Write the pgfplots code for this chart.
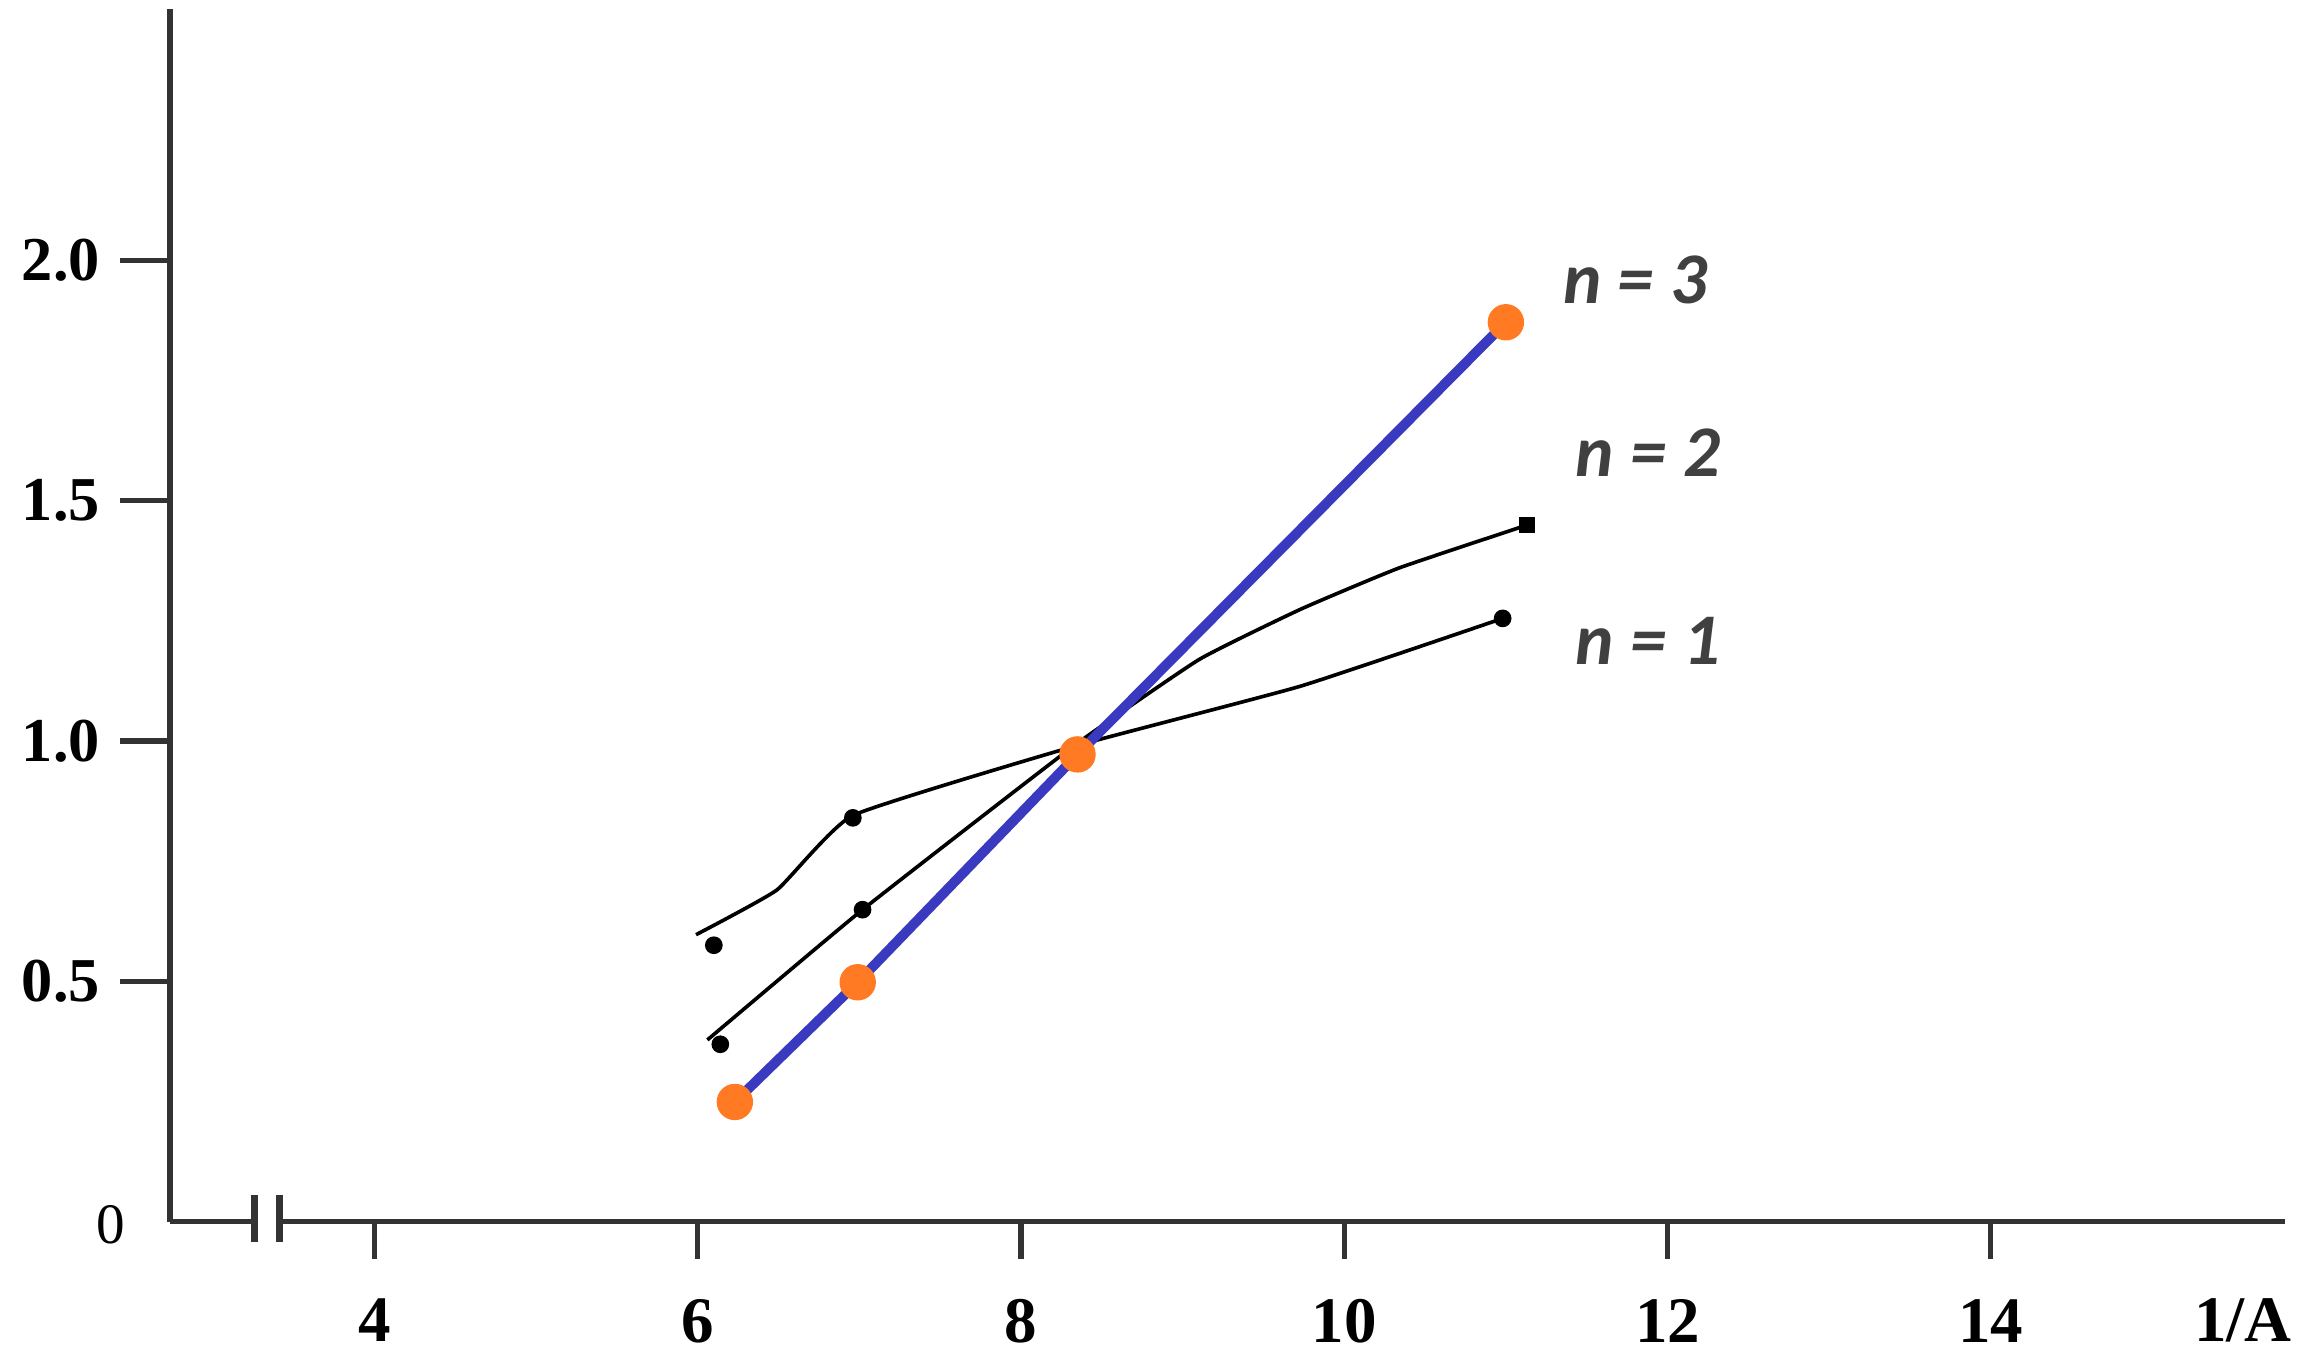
\documentclass[border=0pt]{standalone}
\usepackage{fontspec}
\setmainfont{Liberation Serif}
\newfontfamily\labfont{Carlito}
\usepackage{pgfplots}
\pgfplotsset{compat=1.18}
\definecolor{axgray}{HTML}{333333}
\definecolor{nblue}{HTML}{3A3AC0}
\definecolor{norange}{HTML}{FF7A22}
\definecolor{labgray}{HTML}{404040}
\begin{document}
\begin{tikzpicture}
\path[use as bounding box] (-11.5mm,-9.4mm) rectangle (145.3mm,82.6mm);
\begin{axis}[
  scale only axis, width=143mm, height=82mm,
  xmin=2.736, xmax=15.82, ymin=0, ymax=2.523,
  axis lines=left,
  axis line style={axgray, line width=1pt, -},
  clip=false,
  tick align=outside,
  xtick={4,6,8,10,12,14},
  xticklabels={4,6,8,10,12,14},
  ytick={0.5,1,1.5,2},
  yticklabels={0.5,1.0,1.5,2.0},
  xtick style={axgray, line width=1pt, /pgfplots/major tick length=2.5mm},
  ytick style={axgray, line width=1pt, /pgfplots/major tick length=3.4mm},
  xticklabel style={font=\fontsize{12.5}{14}\selectfont\bfseries, yshift=-2.5mm},
  yticklabel style={font=\fontsize{12}{14}\selectfont\bfseries, xshift=-2.0mm},
]
% axis break
\fill[white] ([yshift=-1mm]axis cs:3.28,0) rectangle ([yshift=1mm]axis cs:3.39,0);
\draw[axgray, line width=1.3pt] ([yshift=-1.4mm]axis cs:3.257,0) -- ([yshift=1.8mm]axis cs:3.257,0);
\draw[axgray, line width=1.3pt] ([yshift=-1.4mm]axis cs:3.413,0) -- ([yshift=1.8mm]axis cs:3.413,0);

% n=1
\addplot[black, line width=0.7pt, smooth, tension=0.25] coordinates {
  (5.99,0.597) (6.49,0.690) (6.96,0.845) (8.32,0.988) (9.73,1.114) (10.98,1.255)};
\addplot[only marks, mark=*, mark size=1.5pt, black] coordinates {
  (6.10,0.575) (6.96,0.840) (8.32,0.988) (10.98,1.255)};
% n=2
\addplot[black, line width=0.7pt, smooth, tension=0.25] coordinates {
  (6.06,0.378) (7.02,0.649) (8.32,0.988) (9.10,1.169) (9.73,1.274) (10.34,1.360) (11.13,1.449)};
\addplot[only marks, mark=*, mark size=1.5pt, black] coordinates {
  (6.14,0.369) (7.02,0.649)};
\addplot[only marks, mark=square*, mark size=1.4pt, black] coordinates {
  (11.13,1.449)};
% n=3
\addplot[nblue, line width=1.9pt] coordinates {
  (6.23,0.249) (6.99,0.498) (8.35,0.972) (11.00,1.871)};
\addplot[only marks, mark=*, mark size=3.3pt, norange, mark options={draw=norange, fill=norange}] coordinates {
  (6.23,0.249) (6.99,0.498) (8.35,0.972) (11.00,1.871)};

\node[labgray, font=\labfont\fontsize{14}{16}\selectfont\bfseries\itshape] at (axis cs:11.80,1.96) {n = 3};
\node[labgray, font=\labfont\fontsize{14}{16}\selectfont\bfseries\itshape] at (axis cs:11.88,1.60) {n = 2};
\node[labgray, font=\labfont\fontsize{14}{16}\selectfont\bfseries\itshape] at (axis cs:11.88,1.209) {n = 1};

\node[font=\fontsize{11}{13}\selectfont] at ([xshift=-4.0mm, yshift=-0.2mm]axis cs:2.736,0) {0};
\node[font=\fontsize{12.5}{14}\selectfont\bfseries] at ([yshift=-6.7mm]axis cs:15.56,0) {1/A};
\end{axis}
\end{tikzpicture}
\end{document}
